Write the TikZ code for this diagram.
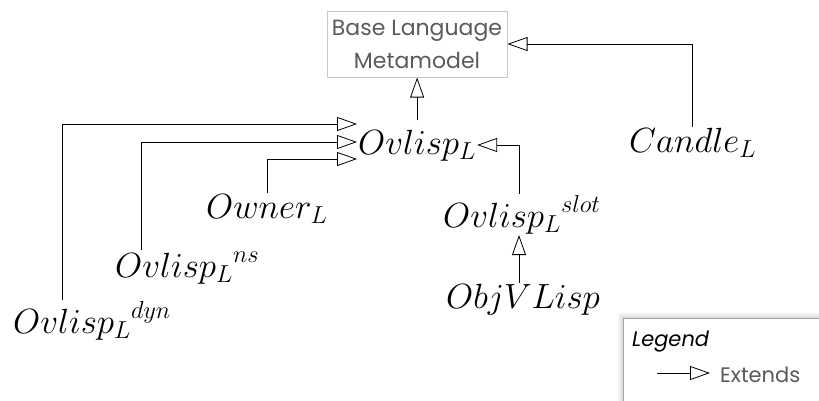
\RequirePackage{fix-cm}
\documentclass[tikz,border=0pt]{standalone}
\usepackage{fontspec}
\setsansfont{Poppins}
\usetikzlibrary{arrows.meta,calc}
\definecolor{boxgray}{HTML}{C4C8C8}
\definecolor{txtgray}{HTML}{5A5A5A}
\tikzset{
  ext/.style={line width=0.8pt, -{Triangle[open,length=20pt,width=14pt,line width=0.8pt]}},
  mathlbl/.style={anchor=base west, inner sep=1pt, font=\fontsize{35}{40}\selectfont},
  metabox/.style={draw=boxgray, line width=1pt, minimum width=180pt, minimum height=66pt,
    align=center, text=txtgray, font=\sffamily\fontsize{22}{33}\selectfont, inner sep=0pt},
}
\begin{document}
\begin{tikzpicture}[x=1pt,y=-1pt]
\useasboundingbox (0,0) rectangle (819,400);
\clip (0,0) rectangle (819,400);

\node[metabox] (base) at (417,44) {Base Language\\Metamodel};

\node[mathlbl] (ovl)  at (357,154) {$Ovlisp_L$};
\node[mathlbl] (cand) at (628,152) {$Candle_L$};
\node[mathlbl] (own)  at (205,218) {$Owner_L$};
\node[mathlbl] (ns)   at (114,277) {${Ovlisp_L}^{ns}$};
\node[mathlbl] (dyn)  at (12,333)  {${Ovlisp_L}^{dyn}$};
\node[mathlbl] (slot) at (442,227) {${Ovlisp_L}^{slot}$};
\node[mathlbl] (obj)  at (445,308) {$ObjVLisp$};

% connectors
\coordinate (ovltop) at ([yshift=34pt]ovl.base);
\draw[ext] (ovltop) -- (ovltop |- base.south);
\draw[ext] (cand.north) |- (base.east);
\draw[ext] ([xshift=50pt]dyn.north west) |- ([yshift=30pt]ovl.base west);
\draw[ext] ([xshift=27pt]ns.north west) |- ([yshift=12pt]ovl.base west);
\draw[ext] ([xshift=62pt]own.north west) |- ([yshift=-5pt]ovl.base west);
\draw[ext] ([xshift=77pt]slot.north west) |- ([yshift=9pt]ovl.base east);
\coordinate (slotbot) at ([xshift=77pt]slot.south west);
\draw[ext] (obj.north -| slotbot) -- (slotbot);

% legend
\foreach \i/\o in {5/0.04,4/0.06,3/0.08,2/0.1,1/0.14}{
  \draw[black, opacity=\o, line width=1pt] (623-\i,318-\i) rectangle (840,420);
}
\node[draw=gray!70, fill=white, line width=0.8pt, minimum width=220pt, minimum height=100pt,
  anchor=north west, inner sep=0pt] (leg) at (623,318) {};
\node[anchor=base west, inner sep=0pt, font=\sffamily\itshape\fontsize{21}{22}\selectfont] (legt) at (632,346) {Legend};
\node[anchor=base west, inner sep=0pt, text=txtgray, font=\sffamily\fontsize{21}{22}\selectfont] (lext) at (720,382) {Extends};
\coordinate (legs) at (657,373);
\draw[ext] (legs) -- ([xshift=-10pt]lext.west |- legs);
\end{tikzpicture}
\end{document}
